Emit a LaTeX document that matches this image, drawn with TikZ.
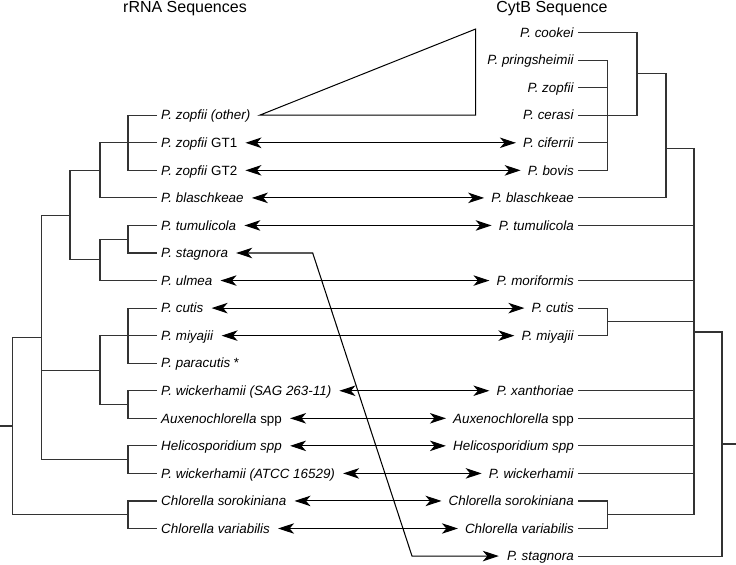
\documentclass[tikz,border=0pt]{standalone}
\usepackage{fontspec}
\setmainfont{Liberation Sans}
\newfontfamily\titlefont{Liberation Sans}
\usetikzlibrary{arrows.meta}
\begin{document}
\begin{tikzpicture}[x=1pt,y=-27.55pt,
  tree/.style={draw=black!80, line width=1.1pt, line join=miter},
  dbl/.style={draw=black, line width=1.05pt, {Stealth[length=16pt,width=10.5pt,inset=4.5pt]}-{Stealth[length=16pt,width=10.5pt,inset=4.5pt]}},
  lab/.style={inner sep=0pt, text height=9.4pt, text depth=0pt, font=\fontsize{13.4}{16}\selectfont},
  llab/.style={lab, anchor=west},
  rlab/.style={lab, anchor=east},
  ttl/.style={font=\titlefont\fontsize{16}{19}\selectfont, inner sep=0pt, anchor=base}]
\useasboundingbox (0,-1.1833) rectangle (736,19.289);
% titles
\node[ttl] (t1) at (185,-0.7223) {rRNA Sequences};
\node[ttl] (t2) at (552,-0.7223) {CytB Sequence};
% left labels
\node[llab] (l3) at (161,3) {\textit{P. zopfii (other)}};
\node[llab] (l4) at (161,4) {\textit{P. zopfii} GT1};
\node[llab] (l5) at (161,5) {\textit{P. zopfii} GT2};
\node[llab] (l6) at (161,6) {\textit{P. blaschkeae}};
\node[llab] (l7) at (161,7) {\textit{P. tumulicola}};
\node[llab] (l8) at (161,8) {\textit{P. stagnora}};
\node[llab] (l9) at (161,9) {\textit{P. ulmea}};
\node[llab] (l10) at (161,10) {\textit{P. cutis}};
\node[llab] (l11) at (161,11) {\textit{P. miyajii}};
\node[llab] (l12) at (161,12) {\textit{P. paracutis} *};
\node[llab] (l13) at (161,13) {\textit{P. wickerhamii (SAG 263-11)}};
\node[llab] (l14) at (161,14) {\textit{Auxenochlorella} spp};
\node[llab] (l15) at (161,15) {\textit{Helicosporidium spp}};
\node[llab] (l16) at (161,16) {\textit{P. wickerhamii (ATCC 16529)}};
\node[llab] (l17) at (161,17) {\textit{Chlorella sorokiniana}};
\node[llab] (l18) at (161,18) {\textit{Chlorella variabilis}};
% right labels
\node[rlab] (r0) at (574,0) {\textit{P. cookei}};
\node[rlab] (r1) at (574,1) {\textit{P. pringsheimii}};
\node[rlab] (r2) at (574,2) {\textit{P. zopfii}};
\node[rlab] (r3) at (574,3) {\textit{P. cerasi}};
\node[rlab] (r4) at (574,4) {\textit{P. ciferrii}};
\node[rlab] (r5) at (574,5) {\textit{P. bovis}};
\node[rlab] (r6) at (574,6) {\textit{P. blaschkeae}};
\node[rlab] (r7) at (574,7) {\textit{P. tumulicola}};
\node[rlab] (r9) at (574,9) {\textit{P. moriformis}};
\node[rlab] (r10) at (574,10) {\textit{P. cutis}};
\node[rlab] (r11) at (574,11) {\textit{P. miyajii}};
\node[rlab] (r13) at (574,13) {\textit{P. xanthoriae}};
\node[rlab] (r14) at (574,14) {\textit{Auxenochlorella} spp};
\node[rlab] (r15) at (574,15) {\textit{Helicosporidium spp}};
\node[rlab] (r16) at (574,16) {\textit{P. wickerhamii}};
\node[rlab] (r17) at (574,17) {\textit{Chlorella sorokiniana}};
\node[rlab] (r18) at (574,18) {\textit{Chlorella variabilis}};
\node[rlab] (r19) at (574,19) {\textit{P. stagnora}};
% triangle
\coordinate (triA) at (475.7,-0.1307);
\coordinate (triB) at (475.7,3);
\draw[black, line width=1pt, line join=miter] ([xshift=9pt]l3.east) -- (triA) -- (triB) -- cycle;
% arrows
\foreach \k in {4,5,6,7,9,10,11,13,14,15,16,17,18}
  \draw[dbl] ([xshift=8pt]l\k.east) -- ([xshift=-7pt]r\k.west);
\coordinate (bend1) at (312.7,8);
\coordinate (bend2) at (412,19);
\draw[dbl, line join=miter] ([xshift=8pt]l8.east) -- (bend1) -- (bend2) -- ([xshift=-8pt]r19.west);
% left tree
\draw[tree] (157,3) -- (128,3) -- (128,5) -- (157,5);
\draw[tree] (157,4) -- (100,4) -- (100,6) -- (157,6);
\draw[tree] (157,7) -- (128,7) -- (128,8) -- (157,8);
\draw[tree] (128,7.5) -- (100,7.5) -- (100,9) -- (157,9);
\draw[tree] (100,5) -- (70,5) -- (70,8.25) -- (100,8.25);
\draw[tree] (70,6.625) -- (41.7,6.625) -- (41.7,15.5) -- (128,15.5);
\draw[tree] (157,10) -- (128,10) -- (128,12) -- (157,12);
\draw[tree] (157,13) -- (128,13) -- (128,14) -- (157,14);
\draw[tree] (157,11) -- (100,11) -- (100,13.5) -- (128,13.5);
\draw[tree] (41.7,12.25) -- (100,12.25);
\draw[tree] (157,15) -- (128,15) -- (128,16) -- (157,16);
\draw[tree] (157,17) -- (128,17) -- (128,18) -- (157,18);
\draw[tree] (41.7,11.0625) -- (12.7,11.0625) -- (12.7,17.5) -- (128,17.5);
\draw[tree] (0,14.28) -- (12.7,14.28);
% right tree
\draw[tree] (578,1) -- (607.7,1) -- (607.7,5) -- (578,5);
\draw[tree] (578,2) -- (607.7,2);
\draw[tree] (578,4) -- (607.7,4);
\draw[tree] (578,0) -- (637,0) -- (637,3) -- (578,3);
\draw[tree] (637,1.5) -- (666,1.5) -- (666,6) -- (578,6);
\draw[tree] (666,4.1996) -- (694,4.1996) -- (694,17.5);
\foreach \k in {7,9,13,14,15,16}
  \draw[tree] (578,\k) -- (694,\k);
\draw[tree] (578,10) -- (607.7,10) -- (607.7,11) -- (578,11);
\draw[tree] (607.7,10.5) -- (694,10.5);
\draw[tree] (578,17) -- (607.7,17) -- (607.7,18) -- (578,18);
\draw[tree] (607.7,17.5) -- (694,17.5);
\draw[tree] (694,10.8675) -- (722,10.8675) -- (722,19) -- (578,19);
\draw[tree] (722,14.934) -- (736,14.934);
\end{tikzpicture}
\end{document}
